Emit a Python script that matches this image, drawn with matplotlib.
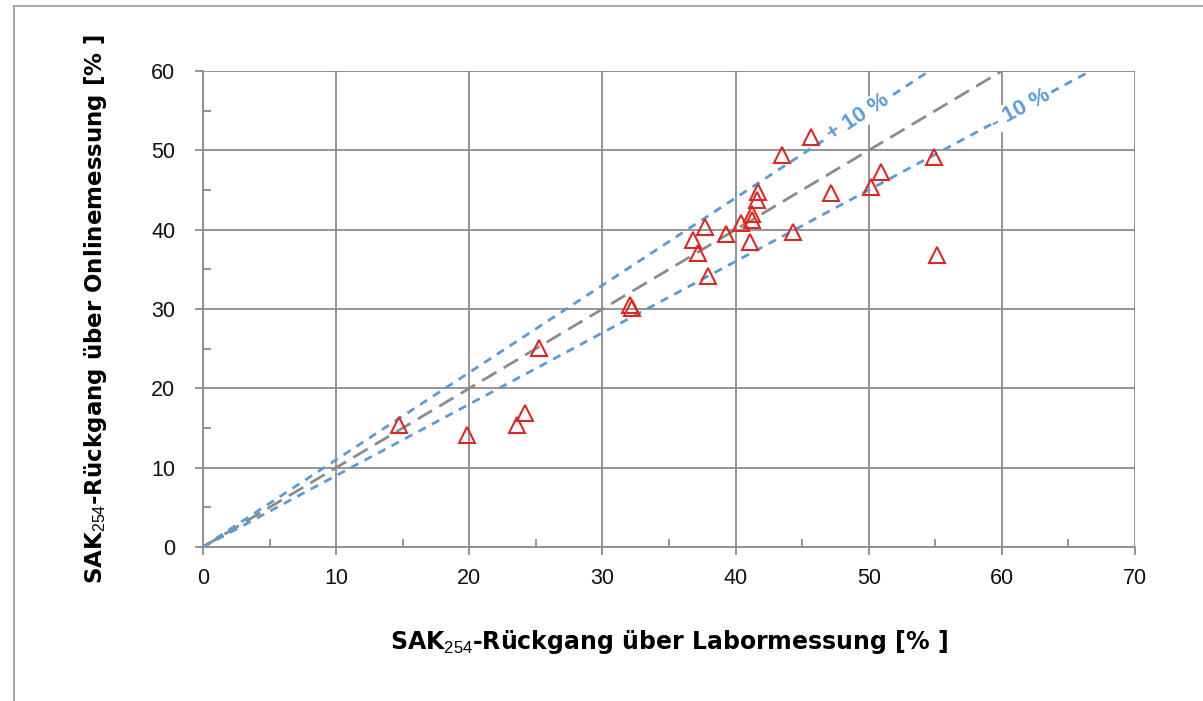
import numpy as np
import matplotlib.pyplot as plt
from matplotlib.lines import Line2D
from matplotlib.ticker import MultipleLocator

plt.rcParams['font.family'] = ['Liberation Sans', 'DejaVu Sans']
plt.rcParams['mathtext.fontset'] = 'custom'
plt.rcParams['mathtext.rm'] = 'Liberation Sans'

# SAK254 decrease, lab vs online [%]
labor = [14.7, 19.8, 23.6, 24.2, 25.2, 32.1, 32.2, 36.8, 37.2, 37.7, 37.9,
         39.3, 40.4, 41.1, 41.2, 41.2, 41.6, 41.7, 43.5, 45.7, 47.2, 44.3,
         50.2, 50.9, 54.9, 55.1]
online = [15.4, 14.1, 15.4, 16.9, 25.1, 30.5, 30.1, 38.7, 37.1, 40.3, 34.2,
          39.5, 40.8, 38.4, 42.0, 41.2, 43.7, 44.7, 49.4, 51.7, 44.6, 39.7,
          45.4, 47.3, 49.2, 36.8]

line_x = [0, 60]
upper_x = [0, 60 / 1.1]
lower_x = [0, 60 / 0.9]

grey = '#8c8c8c'
blue = '#5b9bd5'
red = '#d42a2a'

fig = plt.figure(figsize=(12.03, 7.01), dpi=100)
ax = fig.add_axes([203 / 1203, 1 - 547 / 701, (1135 - 203) / 1203, (547 - 71) / 701])

# frame around chart area
fig.add_artist(Line2D([14 / 1203, 14 / 1203], [0, 1 - 6 / 701], color='#9a9a9a', lw=1.2))
fig.add_artist(Line2D([14 / 1203, 1], [1 - 6 / 701, 1 - 6 / 701], color='#9a9a9a', lw=1.2))

ax.set_xlim(0, 70)
ax.set_ylim(0, 60)
ax.xaxis.set_major_locator(MultipleLocator(10))
ax.yaxis.set_major_locator(MultipleLocator(10))
ax.xaxis.set_minor_locator(MultipleLocator(5))
ax.yaxis.set_minor_locator(MultipleLocator(5))
ax.grid(True, which='major', color=grey, lw=1.3)
ax.set_axisbelow(True)
for s in ['top', 'right']:
    ax.spines[s].set_visible(False)
for s in ['left', 'bottom']:
    ax.spines[s].set_color(grey)
    ax.spines[s].set_linewidth(1.3)
ax.tick_params(which='major', direction='out', length=6, width=1.3, color=grey,
               labelsize=15.5, labelcolor='#111111')
ax.tick_params(axis='x', which='major', pad=9)
ax.tick_params(axis='y', which='major', pad=14)
ax.tick_params(which='minor', direction='in', length=6, width=1.3, color=grey)

ax.plot(line_x, line_x, color=grey, lw=2, dashes=(6, 3), zorder=2)
ax.plot(upper_x, [1.1 * v for v in upper_x], color=blue, lw=2, dashes=(3, 2.5), zorder=2)
ax.plot(lower_x, [0.9 * v for v in lower_x], color=blue, lw=2, dashes=(3, 2.5), zorder=2)

ax.plot(labor, online, linestyle='None', marker='^', markersize=11.5,
        markerfacecolor='none', markeredgecolor=red, markeredgewidth=1.5, zorder=3)

def angle(k):
    p0 = ax.transData.transform((0, 0))
    p1 = ax.transData.transform((10, 10 * k))
    return np.degrees(np.arctan2(p1[1] - p0[1], p1[0] - p0[0]))

box = dict(facecolor='white', edgecolor='none', pad=1)
ax.text(49.2, 1.1 * 49.2, '+ 10 %', color=blue, fontsize=16, fontweight='bold',
        rotation=angle(1.1), rotation_mode='anchor', ha='center', va='center',
        bbox=box, zorder=2.5)
ax.text(61.4, 0.9 * 61.4, '- 10 %', color=blue, fontsize=16, fontweight='bold',
        rotation=angle(0.9), rotation_mode='anchor', ha='center', va='center',
        bbox=box, zorder=2.5)

lab_font = dict(fontweight='bold', family='DejaVu Sans')
ax.set_xlabel(r'SAK$_{\mathrm{254}}$-Rückgang über Labormessung [% ]', fontsize=17,
              labelpad=28, **lab_font)
ax.set_ylabel(r'SAK$_{\mathrm{254}}$-Rückgang über Onlinemessung [% ]', fontsize=16.5,
              labelpad=30, **lab_font)

fig.savefig('out.png', dpi=100)
